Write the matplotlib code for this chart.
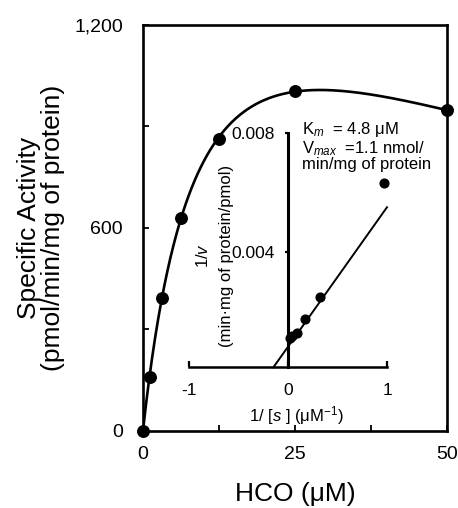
import numpy as np
import matplotlib
matplotlib.use('Agg')
import matplotlib.pyplot as plt
from matplotlib.ticker import FixedLocator

plt.rcParams['font.family'] = ['Liberation Sans', 'DejaVu Sans']
plt.rcParams['mathtext.fontset'] = 'custom'
plt.rcParams['mathtext.rm'] = 'Liberation Sans'
plt.rcParams['mathtext.it'] = 'Liberation Sans:italic'
plt.rcParams['mathtext.default'] = 'regular'

# ---- main plot data ----
hco = [0, 1.1, 3.1, 6.2, 12.5, 25, 50]
activity = [0, 159, 391, 630, 863, 1005, 948]
main_xticks = [0, 25, 50]
main_xticklabels = ['0', '25', '50']
main_yticks = [0, 600, 1200]
main_yticklabels = ['0', '600', '1,200']

# ---- inset (Lineweaver-Burk) data ----
inv_s = [0.97, 0.326, 0.172, 0.087, 0.04, 0.02]
inv_v = [0.00632, 0.00251, 0.00176, 0.00128, 0.00118, 0.00112]
lb_slope = 0.00468
lb_intercept = 0.00083
inset_xticks = [-1, 0, 1]
inset_xticklabels = ['-1', '0', '1']
inset_yticks = [0.004, 0.008]
inset_yticklabels = ['0.004', '0.008']

W, H = 458, 508
fig = plt.figure(figsize=(W / 100, H / 100), dpi=100)


def fr(x0, y0, x1, y1):
    return [x0 / W, 1 - y1 / H, (x1 - x0) / W, (y1 - y0) / H]


# ---- fit a substrate-inhibition curve through the main points ----
S = np.array(hco, dtype=float)
V = np.array(activity, dtype=float)
km = np.linspace(1, 40, 391)[:, None, None]
ki = np.linspace(10, 600, 591)[None, :, None]
f = S[None, None, :] / (km + S[None, None, :] + S[None, None, :] ** 2 / ki)
vm = (V * f).sum(-1) / (f * f).sum(-1)
err = ((V - vm[..., None] * f) ** 2).sum(-1)
i, j = np.unravel_index(np.argmin(err), err.shape)
KM, KI, VM = km[i, 0, 0], ki[0, j, 0], vm[i, j]
xs = np.linspace(0, 50, 400)
ys = VM * xs / (KM + xs + xs ** 2 / KI)

ax = fig.add_axes(fr(143, 25, 447, 430.5))
ax.plot(xs, ys, color='black', lw=1.9, zorder=3)
ax.plot(hco, activity, 'o', color='black', ms=8.3, clip_on=False, zorder=4)
ax.set_xlim(0, 50)
ax.set_ylim(0, 1200)
ax.set_xticks(main_xticks)
ax.set_xticklabels(main_xticklabels)
ax.set_yticks(main_yticks)
ax.set_yticklabels(main_yticklabels)
ax.xaxis.set_minor_locator(FixedLocator([12.5, 37.5]))
ax.yaxis.set_minor_locator(FixedLocator([300, 900]))
ax.tick_params(which='both', direction='in', length=4, width=1.3, top=False, right=False)
ax.tick_params(axis='y', which='major', labelsize=14, pad=14.4)
ax.tick_params(axis='x', which='major', labelsize=14, pad=11.5)
for sp in ax.spines.values():
    sp.set_linewidth(1.9)

fig.text(41 / W, 1 - 228 / H, 'Specific Activity\n(pmol/min/mg of protein)',
         rotation=90, ha='center', va='center', fontsize=19, linespacing=1.05,
         multialignment='center')
fig.text(295 / W, 1 - 494 / H, 'HCO (μM)', ha='center', va='center', fontsize=19)

# ---- inset ----
ylo = 0.00014
ins = fig.add_axes(fr(189, 133, 387, 367.3))
ins.patch.set_alpha(0)
ins.set_xlim(-1, 1)
ins.set_ylim(ylo, 0.008)
x0 = (ylo - lb_intercept) / lb_slope
lx = np.array([x0, 1.0])
ins.plot(lx, lb_intercept + lb_slope * lx, color='black', lw=1.4, clip_on=False)
ins.plot(inv_s, inv_v, 'o', color='black', ms=6.3, clip_on=False, zorder=4)
for s in ['top', 'right']:
    ins.spines[s].set_visible(False)
ins.spines['left'].set_position(('data', 0))
ins.spines['left'].set_linewidth(2.2)
ins.spines['bottom'].set_linewidth(1.8)
ins.set_xticks(inset_xticks)
ins.set_xticklabels(inset_xticklabels)
ins.set_yticks(inset_yticks)
ins.set_yticklabels(inset_yticklabels)
ins.tick_params(axis='x', direction='in', length=4.5, width=1.6, labelsize=12.5, pad=11.3)
ins.tick_params(axis='y', direction='out', length=2.5, width=1.6, labelsize=12.5, pad=7.2)

fig.text(203 / W, 1 - 256 / H, r'1/$\mathit{v}$', rotation=90, ha='center', va='center', fontsize=12)
fig.text(226 / W, 1 - 256 / H, '(min·mg of protein/pmol)', rotation=90, ha='center',
         va='center', fontsize=12)
fig.text(296 / W, 1 - 416 / H, r'1/ [$\mathit{s}$ ] (μM$^{-1}$)', ha='center', va='center', fontsize=12)

fig.text(301.5 / W, 1 - 134 / H, r'K$_{\mathit{m}}$  = 4.8 μM', ha='left', va='baseline', fontsize=12)
fig.text(301.5 / W, 1 - 153 / H, r'V$_{\mathit{max}}$  =1.1 nmol/', ha='left', va='baseline', fontsize=12)
fig.text(301.5 / W, 1 - 168.5 / H, 'min/mg of protein', ha='left', va='baseline', fontsize=12)

fig.savefig('out.png', dpi=100)
